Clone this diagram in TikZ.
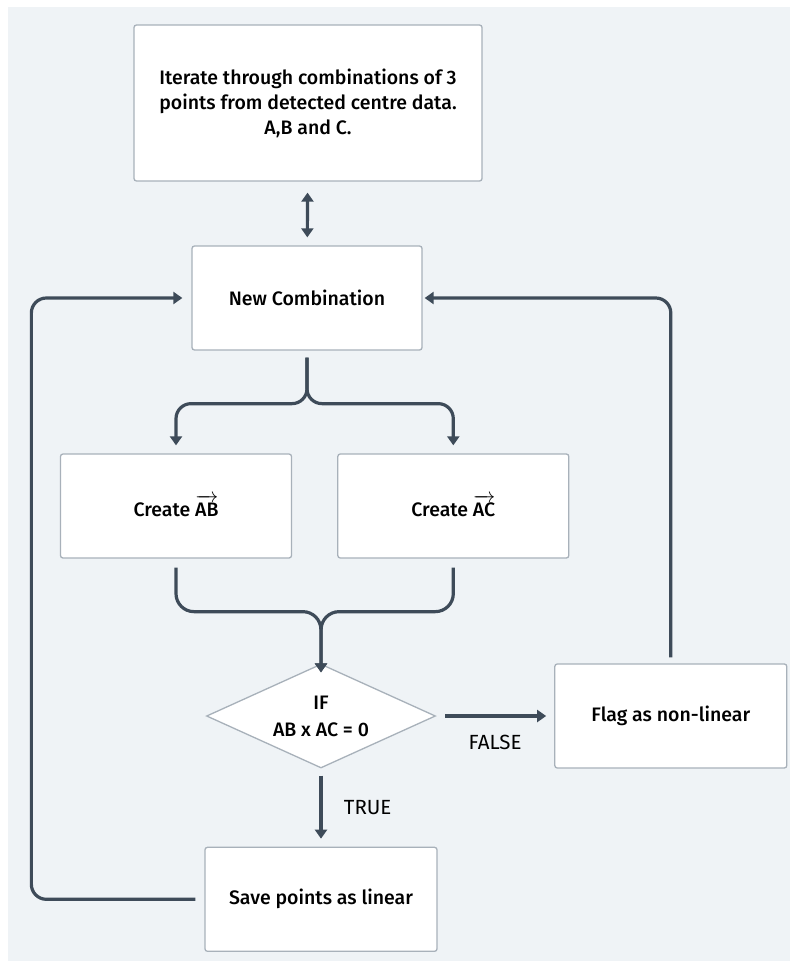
\documentclass[tikz,border=0pt]{standalone}
\usepackage{amsmath}
\usepackage{fontspec}
\setmainfont{Fira Sans}[BoldFont={Fira Sans Medium}]
\usetikzlibrary{arrows.meta,positioning,shapes.geometric}
\definecolor{panelgrey}{RGB}{239,243,246}
\definecolor{boxedge}{RGB}{168,177,186}
\definecolor{flowdark}{RGB}{62,75,89}
\newcommand{\vecof}[1]{\ensuremath{\overrightarrow{\mbox{\bfseries #1}}}}

\begin{document}
\begin{tikzpicture}[
    x=1pt,y=-1pt,
    box/.style={rectangle,rounded corners=2.5pt,draw=boxedge,fill=white,line width=1.3pt,
      minimum width=230pt,minimum height=104pt,align=center,inner sep=0pt,
      font=\fontsize{19.5}{25}\selectfont\bfseries},
    decision/.style={diamond,aspect=2.2,draw=boxedge,fill=white,line width=1.3pt,
      minimum width=229pt,minimum height=104pt,align=center,inner sep=0pt,
      font=\fontsize{19.5}{27}\selectfont\bfseries},
    arrow/.style={-{Triangle[length=9pt,width=12pt]},line width=3.2pt,draw=flowdark,
      rounded corners=15pt},
    lbl/.style={font=\fontsize{20.5}{22}\selectfont,text=black}
  ]
    % panel
    \useasboundingbox (0,0) rectangle (790,961);
    \fill[white] (0,0) rectangle (790,961);
    \fill[panelgrey] (8,7) rectangle (790,961);

    \node[box,minimum width=348pt,minimum height=156pt] (start) at (308,103)
      {Iterate through combinations of 3\\points from detected centre data.\\A,B and C.};
    \node[box] (newc) at (307,298) {New Combination};
    \node[box,minimum width=231pt] (ab) at (176,506) {Create \vecof{AB}};
    \node[box,minimum width=231pt,right=45pt of ab] (ac) {Create \vecof{AC}};
    \node[decision] (cond) at (321,716) {IF\\AB x AC = 0};
    \node[box,minimum width=232pt,right=118pt of cond] (flag) {Flag as non-linear};
    \node[box,minimum width=232pt,below=78pt of cond] (save) {Save points as linear};

    \draw[arrow,{Triangle[length=9pt,width=12pt]}-{Triangle[length=9pt,width=12pt]},
      shorten <=11pt,shorten >=8pt] (start) -- (newc);
    \draw[arrow,shorten <=7pt,shorten >=8pt] (newc.south) -- ++(0,53) -| (ab.north);
    \draw[arrow,shorten <=7pt,shorten >=8pt] (newc.south) -- ++(0,53) -| (ac.north);
    \draw[arrow,rounded corners=18pt,shorten <=9pt] (ab.south) -- ++(0,53) -| ([xshift=-0.1pt,yshift=-9pt]cond.north);
    \draw[arrow,rounded corners=18pt,shorten <=9pt] (ac.south) -- ++(0,53) -| ([xshift=0.1pt,yshift=-9pt]cond.north);
    \draw[arrow,shorten <=9pt,shorten >=8pt] (cond.east) -- node[lbl,below=14pt] (nofalse) {FALSE} (flag.west);
    \draw[arrow,shorten <=7pt,shorten >=8pt] (cond.south) -- node[lbl,right=18pt] (yestrue) {TRUE} (save.north);
    \draw[arrow,shorten <=6pt,shorten >=2pt] (flag.north) |- (newc.east);
    \draw[arrow,shorten <=9pt,shorten >=9pt] (save.west) -- ++(-173,0) |- (newc.west);
  \end{tikzpicture}
\end{document}
